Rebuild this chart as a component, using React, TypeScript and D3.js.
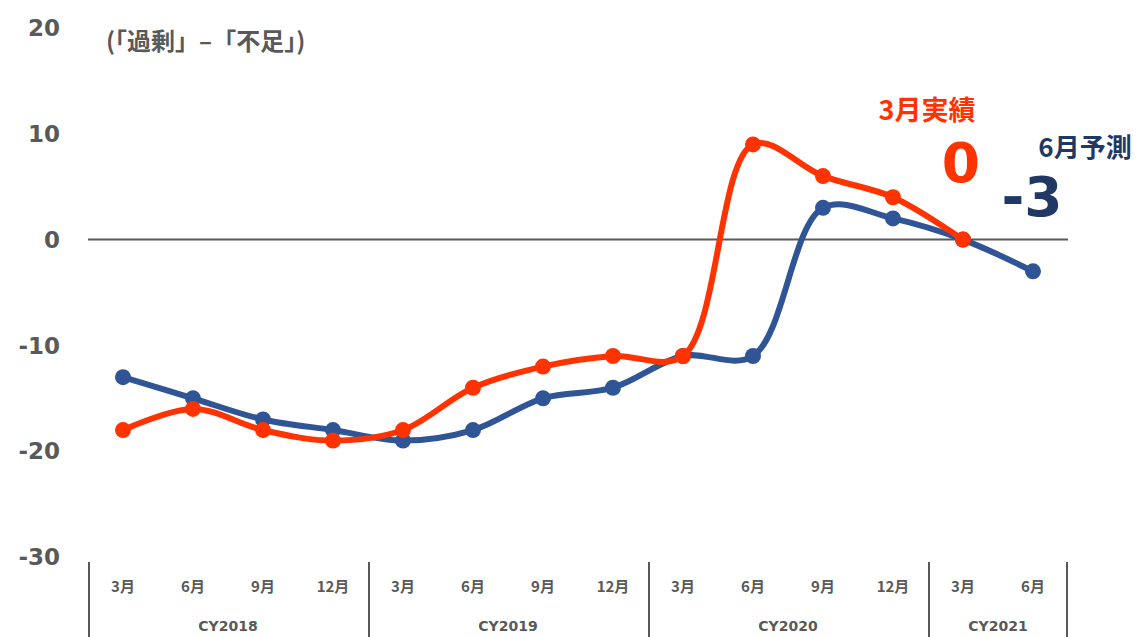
import React from "react";
import * as d3 from "d3";

const months = ["3月", "6月", "9月", "12月", "3月", "6月", "9月", "12月", "3月", "6月", "9月", "12月", "3月", "6月"];
const years = ["CY2018", "CY2019", "CY2020", "CY2021"];
const yearSpans = [4, 4, 4, 2];
const forecast = [-13, -15, -17, -18, -19, -18, -15, -14, -11, -11, 3, 2, 0, -3];
const actual = [-18, -16, -18, -19, -18, -14, -12, -11, -11, 9, 6, 4, 0];
const yTicks = [20, 10, 0, -10, -20, -30];

const W = 1137, H = 637;
const BLUE = "#2F5597";
const ORANGE = "#FF3300";
const NAVY = "#1F3864";
const GRAY = "#595959";
const FONT = "'DejaVu Sans', 'Noto Sans CJK JP', sans-serif";
const JFONT = "'Noto Sans CJK JP', 'DejaVu Sans', sans-serif";

export default function App() {
  const x = d3.scaleBand<number>().domain(d3.range(months.length)).range([88, 1068]);
  const y = d3.scaleLinear().domain([-30, 20]).range([557, 28]);
  const cx = (i: number) => (x(i) as number) + x.bandwidth() / 2;
  const line = d3.line<number>().x((_, i) => cx(i)).y((d) => y(d)).curve(d3.curveCatmullRom.alpha(0.5));

  const bounds: number[] = [0];
  yearSpans.forEach((s, i) => bounds.push(bounds[i] + s));

  return (
    <svg width={W} height={H} style={{ position: "absolute", left: 0, top: 0, background: "#fff" }}>
      {yTicks.map((t) => (
        <text key={t} x={60} y={y(t)} dy="0.36em" textAnchor="end" fontFamily={FONT} fontWeight="bold" fontSize={23} fill={GRAY}>
          {t}
        </text>
      ))}
      <text x={106} y={41} dy="0.36em" fontFamily={JFONT} fontWeight="bold" fontSize={24} fill={GRAY}>
        (「過剰」–「不足」)
      </text>
      <line x1={88} x2={1068} y1={y(0)} y2={y(0)} stroke={GRAY} strokeWidth={2} />

      {/* x axis */}
      {bounds.map((b, i) => {
        const xx = b < months.length ? (x(b) as number) + 1 : 1067;
        return <line key={i} x1={xx} x2={xx} y1={562} y2={637} stroke={GRAY} strokeWidth={2} />;
      })}
      {months.map((m, i) => (
        <text key={i} x={cx(i)} y={587} dy="0.36em" textAnchor="middle" fontFamily={JFONT} fontWeight="bold" fontSize={15} fill={GRAY}>
          {m}
        </text>
      ))}
      {years.map((yr, i) => {
        const mid = ((x(bounds[i]) as number) + (x(bounds[i + 1] - 1) as number) + x.bandwidth()) / 2;
        return (
          <text key={yr} x={mid} y={626} dy="0.36em" textAnchor="middle" fontFamily={FONT} fontWeight="bold" fontSize={14} fill={GRAY}>
            {yr}
          </text>
        );
      })}

      <path d={line(forecast) || ""} fill="none" stroke={BLUE} strokeWidth={6} strokeLinejoin="round" />
      {forecast.map((v, i) => (
        <circle key={i} cx={cx(i)} cy={y(v)} r={8} fill={BLUE} />
      ))}
      <path d={line(actual) || ""} fill="none" stroke={ORANGE} strokeWidth={6} strokeLinejoin="round" />
      {actual.map((v, i) => (
        <circle key={i} cx={cx(i)} cy={y(v)} r={8} fill={ORANGE} />
      ))}

      <text x={927} y={110} dy="0.36em" textAnchor="middle" fontFamily={JFONT} fontWeight="bold" fontSize={27} fill={ORANGE}>
        3月実績
      </text>
      <text x={961} y={162} dy="0.36em" textAnchor="middle" fontFamily={FONT} fontWeight="bold" fontSize={55} fill={ORANGE}>
        0
      </text>
      <text x={1085} y={148} dy="0.36em" textAnchor="middle" fontFamily={JFONT} fontWeight="bold" fontSize={26} fill={NAVY}>
        6月予測
      </text>
      <text x={1032} y={196} dy="0.36em" textAnchor="middle" fontFamily={FONT} fontWeight="bold" fontSize={55} fill={NAVY}>
        -3
      </text>
    </svg>
  );
}
